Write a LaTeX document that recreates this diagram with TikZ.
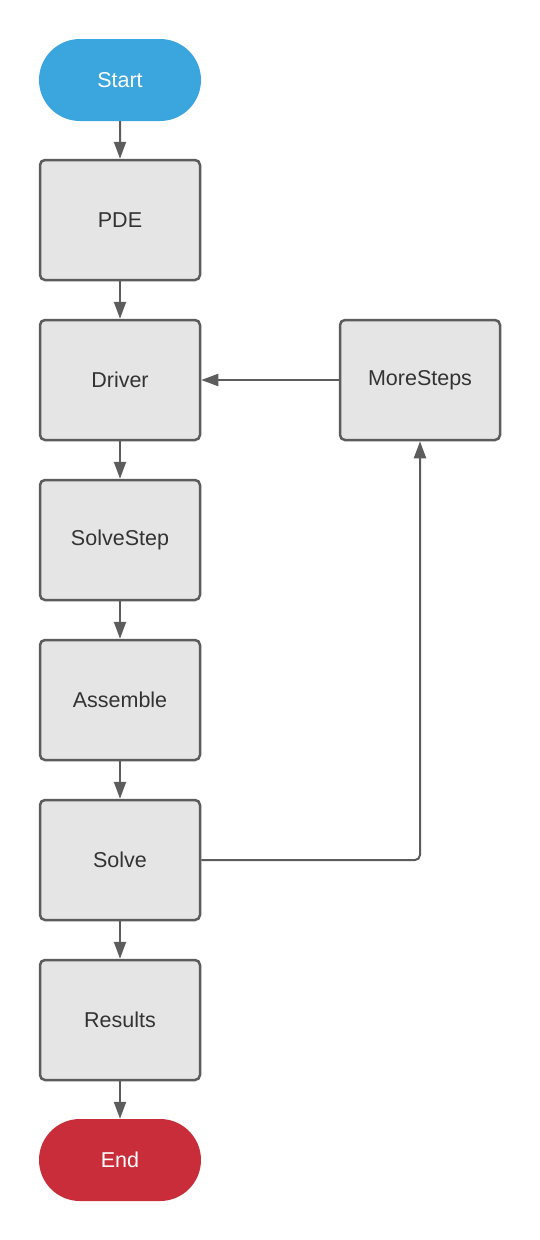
\documentclass[tikz,border=0pt]{standalone}
\usepackage{fontspec}
\setmainfont{Liberation Sans}
\usetikzlibrary{arrows.meta,shapes.misc}
\definecolor{boxfill}{HTML}{E5E5E5}
\definecolor{boxline}{HTML}{5C5C5C}
\definecolor{txt}{HTML}{333333}
\definecolor{startblue}{HTML}{3AA6DD}
\definecolor{endred}{HTML}{C92D39}
\begin{document}
\begin{tikzpicture}[x=1pt,y=-1pt,
  stepbox/.style={draw=boxline,fill=boxfill,line width=2.5pt,rounded corners=5pt,
    minimum width=160pt,minimum height=120pt,inner sep=0pt,text=txt,
    font=\fontsize{21.5}{25}\selectfont},
  terminal/.style={rounded rectangle,draw=none,minimum width=162pt,minimum height=82pt,
    inner sep=0pt,text=white,font=\fontsize{21.5}{25}\selectfont},
  conn/.style={draw=boxline,line width=2pt,-{Triangle[length=17pt,width=12pt]}}]
\useasboundingbox[fill=white] (0,0) rectangle (540,1240);
\node[terminal,fill=startblue] (start) at (120,80) {Start};
\node[stepbox] (pde) at (120,220) {PDE};
\node[stepbox] (driver) at (120,380) {Driver};
\node[stepbox] (solvestep) at (120,540) {SolveStep};
\node[stepbox] (assemble) at (120,700) {Assemble};
\node[stepbox] (solve) at (120,860) {Solve};
\node[stepbox] (results) at (120,1020) {Results};
\node[terminal,fill=endred] (end) at (120,1160) {End};
\node[stepbox] (more) at (420,380) {MoreSteps};
\draw[conn] (start) -- (pde);
\draw[conn] (pde) -- (driver);
\draw[conn] (driver) -- (solvestep);
\draw[conn] (solvestep) -- (assemble);
\draw[conn] (assemble) -- (solve);
\draw[conn] (solve) -- (results);
\draw[conn] (results) -- (end);
\draw[conn] (more) -- (driver);
\draw[conn,rounded corners=5pt] (solve.east) -| (more.south);
\end{tikzpicture}
\end{document}
